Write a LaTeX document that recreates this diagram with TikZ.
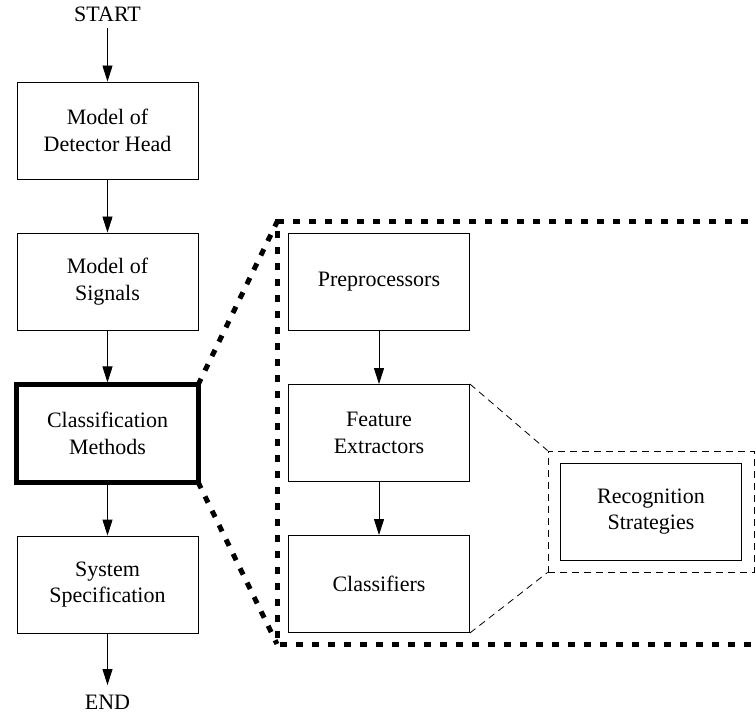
\documentclass[tikz,border=0pt]{standalone}
\usepackage{fontspec}
\setmainfont{Liberation Serif}
\usetikzlibrary{arrows.meta}
\begin{document}
\begin{tikzpicture}[x=1pt,y=-1pt,
  every node/.style={font=\fontsize{22}{26.5}\selectfont},
  stepbox/.style={draw, line width=0.9pt, minimum width=181pt, minimum height=97pt, inner sep=0pt, align=center},
  thickbox/.style={stepbox, line width=5pt, minimum width=182pt, minimum height=97pt},
  flow/.style={line width=0.9pt, -{Triangle[length=16pt,width=10pt]}},
  zoomline/.style={line width=5pt, dash pattern=on 7pt off 9pt},
  thindash/.style={line width=0.8pt, dash pattern=on 7pt off 5pt},
  plain/.style={inner sep=0pt}]
\clip (0,0) rectangle (756,714);
\fill[white] (0,0) rectangle (756,714);
% main column
\node[plain] (start) at (107.5,14) {START};
\node[stepbox] (head) at (107.5,130.5) {Model of\\Detector Head};
\node[stepbox] (signals) at (107.5,281.5) {Model of\\Signals};
\node[thickbox] (methods) at (107.5,433.5) {Classification\\Methods};
\node[stepbox] (system) at (107.5,584.5) {System\\Specification};
\node[plain] (end) at (107.5,702.5) {END};
\draw[flow] ([yshift=-6pt]start.south) -- (head.north);
\draw[flow] (head) -- (signals);
\draw[flow] (signals) -- (methods.north);
\draw[flow] (methods.south) -- (system);
\draw[flow] (system) -- ([yshift=10pt]end.north);
% expanded view
\node[stepbox] (pre) at (379,281.5) {Preprocessors};
\node[stepbox] (feat) at (379,433) {Feature\\Extractors};
\node[stepbox] (cls) at (379,584) {Classifiers};
\draw[flow] (pre) -- (feat);
\draw[flow] (feat) -- (cls);
\coordinate (zt) at (277,222);
\coordinate (zb) at (277,644);
\coordinate (ztr) at (780,222);
\coordinate (zbr) at (780,644);
\coordinate (mtr) at (198,385);
\coordinate (mbr) at (198,482);
\draw[zoomline] (ztr) -- (zt) -- (zb) -- (zbr);
\draw[zoomline] (mtr) -- (zt);
\draw[zoomline] (mbr) -- (zb);
% recognition strategies
\node[stepbox] (rec) at (651,511.5) {Recognition\\Strategies};
\node[draw, thindash, minimum width=206pt, minimum height=121pt, inner sep=0pt] (recframe) at (651,511.5) {};
\draw[thindash] (feat.north east) -- (recframe.north west);
\draw[thindash] (cls.south east) -- (recframe.south west);
\end{tikzpicture}
\end{document}
